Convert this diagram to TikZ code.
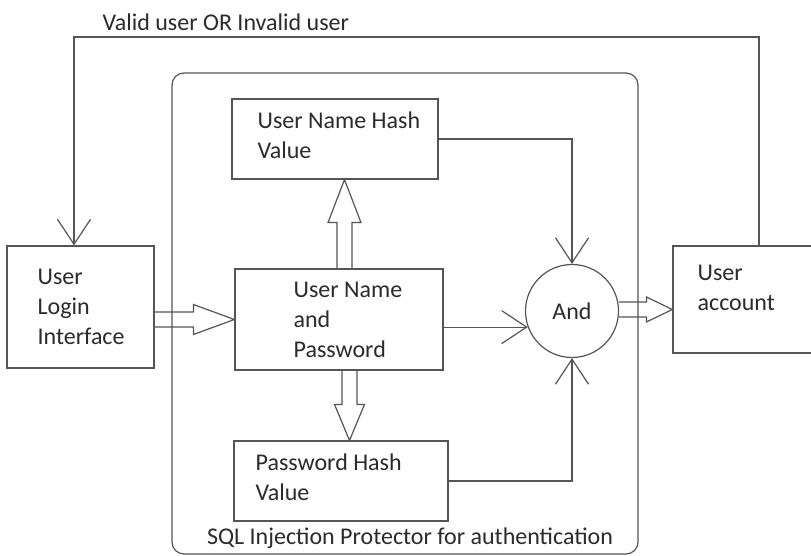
\documentclass[tikz,border=0pt]{standalone}
\usepackage{fontspec}
\setmainfont{Carlito}
\usetikzlibrary{arrows.meta, positioning, calc}
\definecolor{cline}{HTML}{555555}
\definecolor{ctext}{HTML}{2B2B2B}
\tikzset{
  every picture/.style={font=\fontsize{24}{30}\selectfont, line width=1.2pt},
  box/.style={draw=cline, inner sep=0pt},
  txt/.style={text=ctext, align=left, inner sep=0pt, anchor=west},
  barb/.style={-{Straight Barb[length=25pt, width=33pt]}, draw=cline},
  fat/.style n args={2}{draw=cline, line join=miter, to path={
      ($(\tikztostart)!7.5pt!90:(\tikztotarget)$)
      -- ($(\tikztotarget)!#1!(\tikztostart)!7.5pt!-90:(\tikztostart)$)
      -- ($(\tikztotarget)!#1!(\tikztostart)!#2!-90:(\tikztostart)$)
      -- (\tikztotarget)
      -- ($(\tikztotarget)!#1!(\tikztostart)!#2!90:(\tikztostart)$)
      -- ($(\tikztotarget)!#1!(\tikztostart)!7.5pt!90:(\tikztostart)$)
      -- ($(\tikztostart)!7.5pt!-90:(\tikztotarget)$)}},
}
\begin{document}
\begin{tikzpicture}[x=1pt, y=-1pt]
  \clip (0,0) rectangle (811,556);
  \fill[white] (0,0) rectangle (811,556);
  % protector frame
  \node[box, rounded corners=12pt, minimum width=466, minimum height=481] (sql) at (405,313.5) {};
  \node[txt, anchor=center] (sqlcap) at (410,538) {SQL Injection Protector for authentication};
  % boxes
  \node[box, minimum width=147, minimum height=122] (ul) at (80.5,307) {};
  \node[txt] (ultxt) at (37,307) {User\\Login\\Interface};
  \node[box, minimum width=206, minimum height=80] (unh) at (335,139) {};
  \node[txt] (unhtxt) at (257,135) {User Name Hash\\Value};
  \node[box, minimum width=208, minimum height=101] (unp) at (339,319.5) {};
  \node[txt] (unptxt) at (293,320) {User Name\\and\\Password};
  \node[box, minimum width=214, minimum height=80] (pw) at (341,481) {};
  \node[txt] (pwtxt) at (255,477) {Password Hash\\Value};
  \node[box, circle, minimum size=93, text=ctext] (andg) at (572,311) {And};
  \node[box, minimum width=172, minimum height=107] (ua) at (759,299.5) {};
  \node[txt] (uatxt) at (697,288) {User\\account};
  \node[txt] (result) at (102,22) {Valid user OR Invalid user};
  % hollow arrows
  \coordinate (f1s) at (ul.east |- unp.west);
  \coordinate (f1t) at (unp.west);
  \coordinate (f2s) at ([xshift=5.5pt]unp.north);
  \coordinate (f2t) at (f2s |- unh.south);
  \coordinate (f3s) at ([xshift=10.5pt]unp.south);
  \coordinate (f3t) at (f3s |- pw.north);
  \coordinate (f4s) at ([yshift=1.5pt]andg.east);
  \coordinate (f4t) at (f4s -| ua.west);
  \draw[fat={41pt}{15pt}] (f1s) to (f1t);
  \draw[fat={43pt}{16.5pt}] (f2s) to (f2t);
  \draw[fat={36pt}{15pt}] (f3s) to (f3t);
  \draw[fat={26pt}{12.5pt}] (f4s) to (f4t);
  % thin connectors
  \draw[barb] (unh.east) -| (andg.north);
  \draw[barb] (unp.east |- andg.200) -- (andg.200);
  \draw[barb] (pw.east) -| (andg.south);
  % feedback to login
  \coordinate (ulin) at ([xshift=-6.5pt]ul.north);
  \coordinate (top) at (0,37);
  \draw[barb] (ua.north) -- (ua.north |- top) -- (ulin |- top) -- (ulin);
\end{tikzpicture}
\end{document}
